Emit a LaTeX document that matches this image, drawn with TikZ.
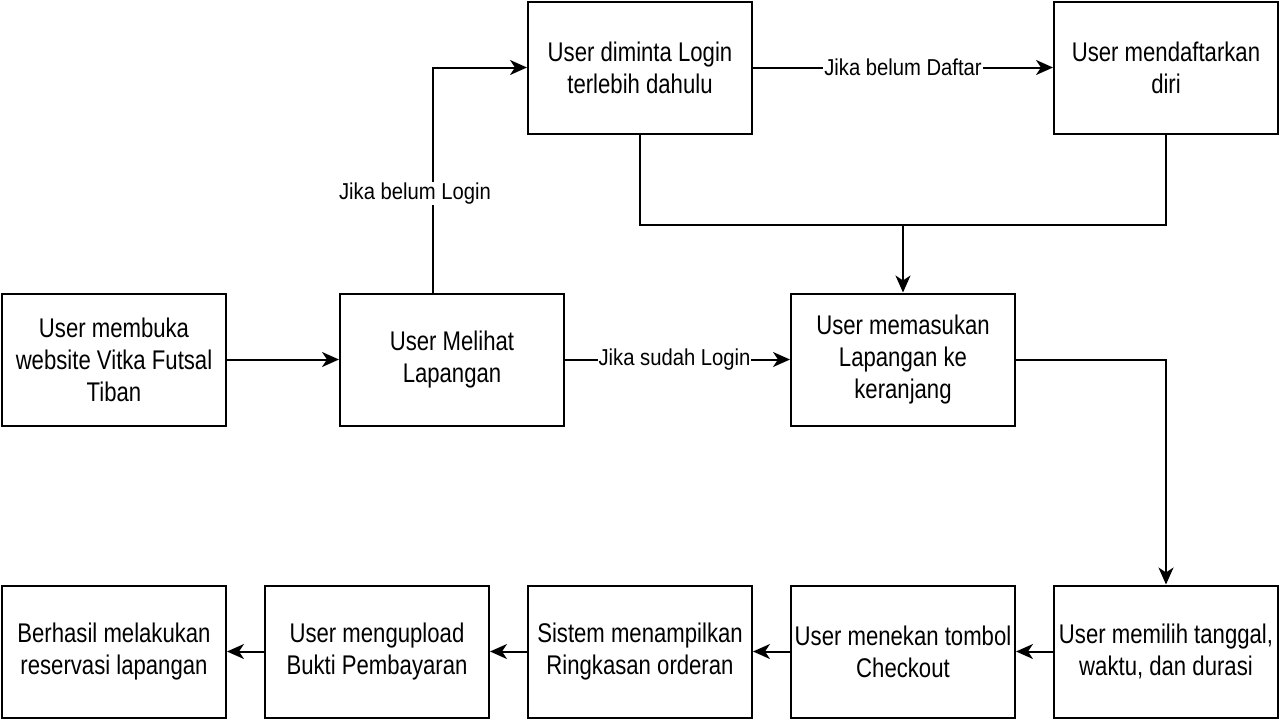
\documentclass[tikz,border=0pt]{standalone}
\usepackage{fontspec}
\setmainfont{Liberation Sans}
\newfontfamily\boxfont[FakeStretch=0.82]{Liberation Sans}
\newfontfamily\condfont[FakeStretch=0.88]{Liberation Sans}
\usetikzlibrary{arrows.meta}

\begin{document}
\begin{tikzpicture}
                \tikzset{x=1pt, y=-1pt}
                \tikzstyle{proc}=[rectangle, draw, line width=2pt, minimum width=224pt, minimum height=132pt, align=center, font=\boxfont\fontsize{27}{32}\selectfont]
                \tikzstyle{cond}=[fill=white, inner sep=1pt, font=\condfont\fontsize{23}{26}\selectfont]
                \tikzstyle{flow}=[line width=2pt, -{Stealth[length=17pt, width=15pt, inset=5pt]}]

                \useasboundingbox (0,0) rectangle (1280,720);

                % middle row
                \draw (114.0, 359.5)    node[proc]  (open)   {User membuka\\website Vitka Futsal\\Tiban};
                \draw (452.0, 359.5)    node[proc]  (view)   {User Melihat\\Lapangan};
                \draw (903.0, 359.5)    node[proc]  (cart)   {User memasukan\\Lapangan ke\\keranjang};

                % top row
                \draw (640.0, 67.5)     node[proc]  (login)  {User diminta Login\\terlebih dahulu};
                \draw (1166.0, 67.5)    node[proc]  (reg)    {User mendaftarkan\\diri};

                % bottom row
                \draw (1166.0, 651.5)   node[proc]  (date)   {User memilih tanggal,\\waktu, dan durasi};
                \draw (903.0, 651.5)    node[proc]  (chk)    {User menekan tombol\\Checkout};
                \draw (640.0, 651.5)    node[proc]  (sum)    {Sistem menampilkan\\Ringkasan orderan};
                \draw (377.0, 651.5)    node[proc]  (upl)    {User mengupload\\Bukti Pembayaran};
                \draw (114.0, 651.5)    node[proc]  (done)   {Berhasil melakukan\\reservasi lapangan};

                \coordinate (up)   at (433, 292.5);
                \coordinate (join) at (903, 225);

                \draw [flow]    (open) -- (view);
                \draw [flow]    (up) |- node[cond, pos=0.22, xshift=-18pt] {Jika belum Login} (login);
                \draw [flow]    (view) -- node[cond, xshift=-3pt] {Jika sudah Login} (cart);
                \draw [flow]    (login) -- node[cond] {Jika belum Daftar} (reg);
                \draw [line width=2pt] (login.south) |- (join) -| (reg.south);
                \draw [flow]    (join) -- (cart);
                \draw [flow]    (cart.east) -| (date.north);
                \draw [flow]    (date) -- (chk);
                \draw [flow]    (chk) -- (sum);
                \draw [flow]    (sum) -- (upl);
                \draw [flow]    (upl) -- (done);
\end{tikzpicture}
\end{document}
